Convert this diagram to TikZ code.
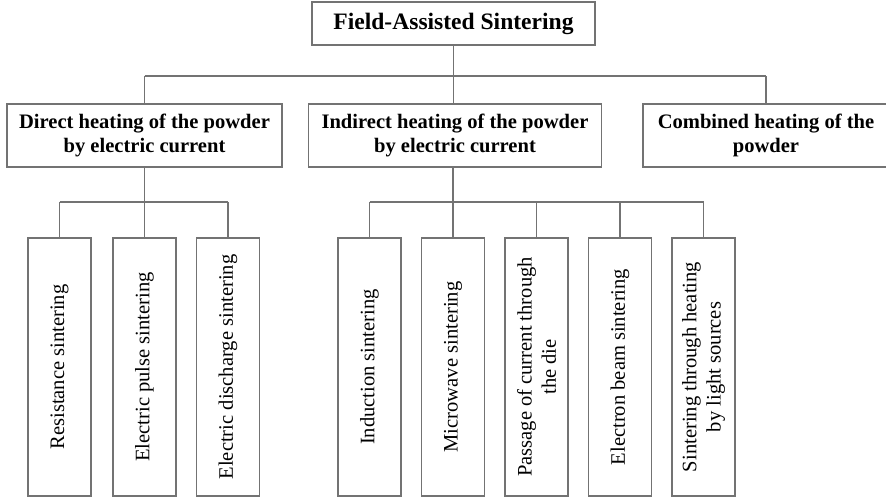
\documentclass[tikz,border=0pt]{standalone}
\usepackage{fontspec}
\setmainfont{Liberation Serif}
\usepackage{tikz}
\usetikzlibrary{calc, positioning}

\begin{document}
\begin{tikzpicture}[
  headbox/.style={draw=black!55, line width=0.6pt, minimum width=5.66cm, minimum height=0.86cm, inner sep=2pt, font=\fontsize{13.4}{15}\selectfont\bfseries},
  groupbox/.style={draw=black!55, line width=0.6pt, minimum height=1.26cm, inner sep=2pt, align=center, font=\fontsize{11.7}{13.2}\selectfont\bfseries},
  leafbox/.style={draw=black!55, line width=0.6pt, rotate=90, minimum width=5.16cm, minimum height=1.26cm, inner sep=2pt, align=center, font=\fontsize{11.7}{13.8}\selectfont},
  link/.style={draw=black!55, line width=0.6pt}
]
\useasboundingbox (0,0) rectangle (17.72,9.98);

% top
\node[headbox] (fas) at (9.07, 9.51) {Field-Assisted Sintering};

% second level
\node[groupbox, minimum width=5.5cm] (direct) at (2.89, 7.27) {Direct heating of the powder\\by electric current};
\node[groupbox, minimum width=5.86cm] (indirect) at (9.1, 7.27) {Indirect heating of the powder\\by electric current};
\node[groupbox, minimum width=4.92cm] (combined) at (15.32, 7.27) {Combined heating of the\\powder};

% leaves
\node[leafbox] (resist) at (1.19, 2.64) {Resistance sintering};
\node[leafbox] (pulse) at (2.89, 2.64) {Electric pulse sintering};
\node[leafbox] (discharge) at (4.56, 2.64) {Electric discharge sintering};
\node[leafbox] (induct) at (7.39, 2.64) {Induction sintering};
\node[leafbox] (micro) at (9.06, 2.64) {Microwave sintering};
\node[leafbox] (die) at (10.73, 2.64) {Passage of current through\\the die};
\node[leafbox] (ebeam) at (12.40, 2.64) {Electron beam sintering};
\node[leafbox] (light) at (14.07, 2.64) {Sintering through heating\\by light sources};

% connectors
\coordinate (busA) at (0, 8.46);
\coordinate (busB) at (0, 5.94);
\draw[link] (fas.south) -- (fas.south |- indirect.north);
\draw[link] (direct.north |- busA) -- (combined.north |- busA);
\foreach \n in {direct, combined}
  \draw[link] (\n.north) -- (\n.north |- busA);

\draw[link] (direct.south) -- (direct.south |- busB);
\draw[link] (resist.east |- busB) -- (discharge.east |- busB);
\foreach \n in {resist, pulse, discharge}
  \draw[link] (\n.east) -- (\n.east |- busB);

\draw[link] (micro.east |- indirect.south) -- (micro.east |- busB);
\draw[link] (induct.east |- busB) -- (light.east |- busB);
\foreach \n in {induct, micro, die, ebeam, light}
  \draw[link] (\n.east) -- (\n.east |- busB);
\end{tikzpicture}
\end{document}
